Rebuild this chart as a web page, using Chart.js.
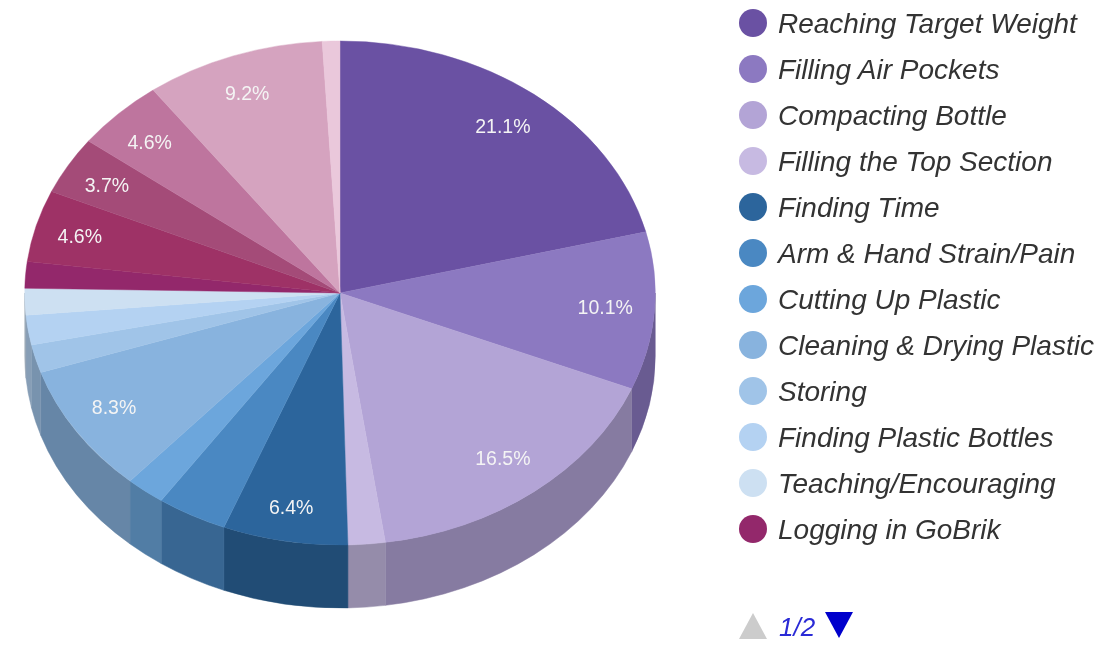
<!DOCTYPE html>
<html>
<head>
<meta charset="utf-8">
<title>Pie</title>
<script src="https://cdn.jsdelivr.net/npm/chart.js@4/dist/chart.umd.min.js"></script>
<style>
    html, body { margin: 0; padding: 0; background: #fff; overflow: hidden; }
    #wrap { position: relative; width: 1113px; height: 652px; filter: blur(0.5px); }
    #pie { position: absolute; left: 0; top: 0; }
    .row { position: absolute; left: 739px; height: 28px; line-height: 28px; white-space: nowrap;
           font: italic 28px "Liberation Sans", Arial, sans-serif; color: #333; }
    .dot { position: absolute; left: 0; top: 0; width: 28px; height: 28px; border-radius: 50%; }
    .row span { position: absolute; left: 39px; top: 1px; line-height: 28px; }
    #pager { position: absolute; left: 739px; top: 612px; width: 120px; height: 28px; }
    #pager span { position: absolute; left: 40px; top: 0; line-height: 28px;
                  font: italic 26px "Liberation Sans", Arial, sans-serif; color: #2a2ad6; }
</style>
</head>
<body>
<div id="wrap">
    <canvas id="pie" width="1113" height="652"></canvas>
    <div id="legend"></div>
    <div id="pager">
        <svg width="120" height="28" style="position:absolute;left:0;top:0">
            <polygon points="0,27 28,27 14,1" fill="#cccccc"></polygon>
            <polygon points="86,0 114,0 100,26" fill="#0000cc"></polygon>
        </svg>
        <span>1/2</span>
    </div>
</div>
<script>
// Only the first legend page is visible, so the last 5 slices have no readable name
const categories = ['Reaching Target Weight', 'Filling Air Pockets', 'Compacting Bottle', 'Filling the Top Section',
    'Finding Time', 'Arm & Hand Strain/Pain', 'Cutting Up Plastic', 'Cleaning & Drying Plastic', 'Storing',
    'Finding Plastic Bottles', 'Teaching/Encouraging', 'Logging in GoBrik'];
const values = [21.1, 10.1, 16.5, 1.9, 6.4, 3.6, 2.0, 8.3, 1.8, 1.9, 1.7, 1.7, 4.6, 3.7, 4.6, 9.2, 0.9];
const colors = ['#6a51a3', '#8c79c1', '#b3a4d6', '#c7bae2', '#2c659c', '#4a88c2', '#6ca6dc', '#88b3de',
    '#a0c4e8', '#b4d2f2', '#cde0f2', '#93286b', '#9e3266', '#a44b78', '#be759e', '#d5a3bf', '#eac8db'];

// Geometry of the tilted pie on the page
const centerX = 340;
const centerY = 293;
const radiusY = 252;
const depth = 63;
const minLabelValue = 3.65;

function darken(hex) {
    const n = parseInt(hex.slice(1), 16);
    const r = Math.round((n >> 16) * 0.75);
    const g = Math.round(((n >> 8) & 255) * 0.75);
    const b = Math.round((n & 255) * 0.75);
    return `rgb(${r},${g},${b})`;
}

const tiltPlugin = {
    id: 'tilt',
    beforeDatasetsDraw(chart) {
        const ctx = chart.ctx;
        const arcs = chart.getDatasetMeta(0).data;
        const radiusX = arcs[0].outerRadius;

        // Side wall of the pie, only the slices that face the viewer
        arcs.forEach((arc, i) => {
            const from = Math.max(arc.startAngle, 0);
            const to = Math.min(arc.endAngle, Math.PI);
            if (to <= from) return;
            ctx.beginPath();
            ctx.ellipse(centerX, centerY, radiusX, radiusY, 0, from, to);
            ctx.ellipse(centerX, centerY + depth, radiusX, radiusY, 0, to, from, true);
            ctx.closePath();
            ctx.fillStyle = darken(colors[i]);
            ctx.strokeStyle = ctx.fillStyle;
            ctx.lineWidth = 0.5;
            ctx.fill();
            ctx.stroke();
        });

        // Squash the flat pie into an ellipse
        ctx.save();
        ctx.translate(centerX, centerY);
        ctx.scale(1, radiusY / radiusX);
        ctx.translate(-arcs[0].x, -arcs[0].y);
    },
    afterDatasetsDraw(chart) {
        const ctx = chart.ctx;
        ctx.restore();

        // Percent labels on the bigger slices
        ctx.save();
        ctx.font = '19.5px "Liberation Sans", Arial, sans-serif';
        ctx.fillStyle = '#f4f4f4';
        ctx.textAlign = 'center';
        ctx.textBaseline = 'middle';
        chart.getDatasetMeta(0).data.forEach((arc, i) => {
            if (values[i] < minLabelValue) return;
            const mid = (arc.startAngle + arc.endAngle) / 2;
            const s = Math.sin(mid);
            // labels close to the top and bottom sit a bit further out
            const nudge = 14 * Math.pow(Math.abs(s), 40) * Math.sign(s);
            const x = centerX - 2 + Math.cos(mid) * arc.outerRadius * 0.85;
            const y = centerY + 0.5 + s * radiusY * 0.835 + nudge;
            ctx.fillText(values[i].toFixed(1) + '%', x, y);
        });
        ctx.restore();
    }
};

new Chart(document.getElementById('pie').getContext('2d'), {
    type: 'pie',
    data: {
        labels: categories,
        datasets: [{
            data: values,
            backgroundColor: colors,
            borderColor: colors,
            borderWidth: 0.5,
            clip: false
        }]
    },
    options: {
        responsive: false,
        animation: false,
        layout: { padding: { left: 24.5, right: 457.5, top: 10, bottom: 11 } },
        plugins: {
            legend: { display: false },
            tooltip: { enabled: false }
        }
    },
    plugins: [tiltPlugin]
});

// Legend, first page
const legend = document.getElementById('legend');
categories.forEach((name, i) => {
    const row = document.createElement('div');
    row.className = 'row';
    row.style.top = (9 + i * 46) + 'px';
    const dot = document.createElement('div');
    dot.className = 'dot';
    dot.style.background = colors[i];
    const text = document.createElement('span');
    text.textContent = name;
    row.appendChild(dot);
    row.appendChild(text);
    legend.appendChild(row);
});
</script>
</body>
</html>
